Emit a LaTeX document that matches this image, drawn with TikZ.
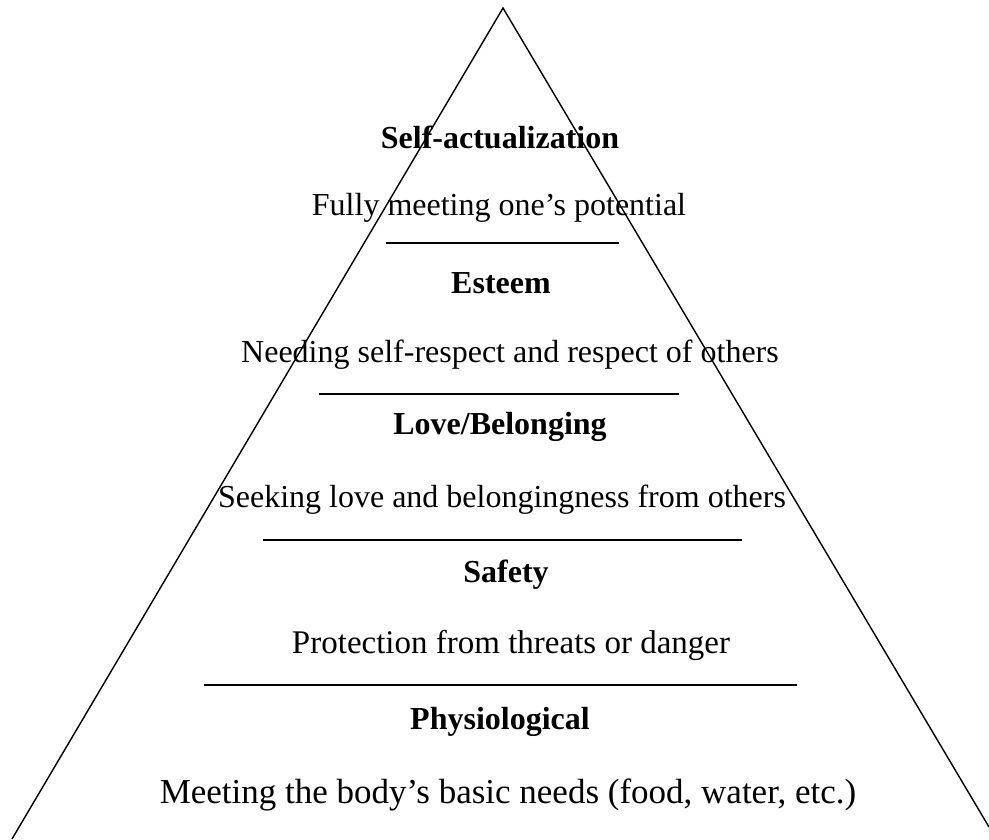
\documentclass[tikz,border=0pt]{standalone}
\usepackage{fontspec}
\setmainfont{Liberation Serif}
\tikzset{
	need/.style={font=\fontsize{32}{36}\selectfont\bfseries, inner sep=0pt},
	desc/.style={font=\fontsize{32}{36}\selectfont, inner sep=0pt},
	rule/.style={line width=2.4pt}
}
\begin{document}
\begin{tikzpicture}[x=1pt, y=-1pt]
	\useasboundingbox (0,0) rectangle (989,839);
	% pyramid sides
	\draw[line width=1.4pt] (12,839) -- (503,8) -- (989,827);
	% levels
	\node[need] (selfact) at (500,137) {Self-actualization};
	\node[desc] (selfactdesc) at (499,208) {Fully meeting one’s potential};
	\draw[rule] (386,243) -- (619,243);
	\node[need] (esteem) at (501,283) {Esteem};
	\node[desc] (esteemdesc) at (510,355) {Needing self-respect and respect of others};
	\draw[rule] (319,394) -- (679,394);
	\node[need] (love) at (500,427) {Love/Belonging};
	\node[desc] (lovedesc) at (502,500) {Seeking love and belongingness from others};
	\draw[rule] (263,540) -- (742,540);
	\node[need] (safety) at (506,575) {Safety};
	\node[desc, font=\fontsize{33}{38}\selectfont] (safetydesc) at (511,645) {Protection from threats or danger};
	\draw[rule] (204,685) -- (797,685);
	\node[need] (physio) at (500,722) {Physiological};
	\node[desc, font=\fontsize{35}{40}\selectfont] (physiodesc) at (508,795) {Meeting the body’s basic needs (food, water, etc.)};
\end{tikzpicture}
\end{document}
